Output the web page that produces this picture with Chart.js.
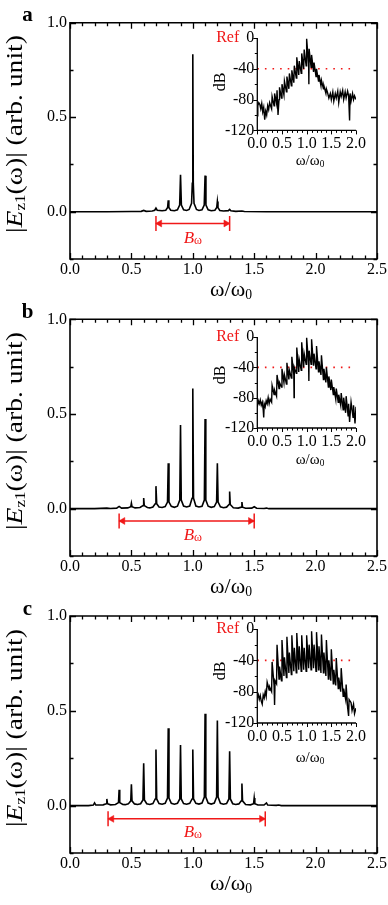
<!DOCTYPE html>
<html><head><meta charset="utf-8">
<script src="https://cdn.jsdelivr.net/npm/chart.js@4/dist/chart.umd.min.js"></script>
<style>
body{margin:0;background:#fff;}
#wrap{position:relative;width:388px;height:905px;overflow:hidden;font-family:"Liberation Serif","Times New Roman",serif;color:#000;}
#wrap canvas{position:absolute;}
.lab{position:absolute;white-space:nowrap;line-height:1;transform:translate(-50%,-50%);}
.rot{transform:translate(-50%,-50%) rotate(-90deg);}
.rotw{transform:translate(-50%,-50%) rotate(-90deg) scaleX(1.2);}
.lab sub{font-size:0.62em;vertical-align:-0.25em;line-height:0;}
</style></head><body><div id="wrap"></div>
<script>
// ---------------- tick values ----------------
const mainXTicks = [0, 0.5, 1.0, 1.5, 2.0, 2.5];
const mainXMinor = [0.1,0.2,0.3,0.4,0.6,0.7,0.8,0.9,1.1,1.2,1.3,1.4,1.6,1.7,1.8,1.9,2.1,2.2,2.3,2.4];
const mainYTicks = [0, 0.5, 1.0];
const mainYMinor = [-0.25, 0.25, 0.75];
const insetXTicks = [0, 0.5, 1.0, 1.5, 2.0];
const insetXMinor = [0.1,0.2,0.3,0.4,0.6,0.7,0.8,0.9,1.1,1.2,1.3,1.4,1.6,1.7,1.8,1.9];
const insetYTicks = [0, -40, -80, -120];
const insetYMinor = [-20, -60, -100];

// ---------------- panel a ----------------
const freqA = [0,0.3,0.5,0.58,0.6,0.62,0.67,0.69,0.7,0.71,0.75,0.78,0.795,0.8,0.805,0.82,0.85,0.875,0.893,0.9,0.907,0.925,0.95,0.97,0.99,0.996,1.0,1.004,1.01,1.03,1.05,1.075,1.093,1.1,1.107,1.125,1.15,1.18,1.195,1.2,1.205,1.22,1.25,1.29,1.3,1.31,1.35,1.4,1.42,1.6,2.5];
const ampA  = [0,0,0.001,0.002,0.007,0.002,0.004,0.008,0.019,0.008,0.005,0.008,0.022,0.061,0.022,0.008,0.005,0.01,0.035,0.195,0.035,0.01,0.007,0.012,0.045,0.15,0.833,0.15,0.045,0.012,0.007,0.01,0.035,0.191,0.035,0.01,0.005,0.008,0.022,0.054,0.022,0.007,0.004,0.006,0.012,0.005,0.002,0.004,0.001,0,0];
const bandA = [0.7, 1.3];
const insetFreqA = [0,0.01,0.03,0.05,0.07,0.09,0.11,0.13,0.15,0.17,0.19,0.21,0.23,0.25,0.29,0.30,0.34,0.35,0.39,0.40,0.42,0.44,0.45,0.49,0.50,0.54,0.55,0.59,0.60,0.64,0.65,0.69,0.70,0.74,0.75,0.79,0.80,0.84,0.85,0.89,0.90,0.94,0.95,0.99,1.00,1.04,1.045,1.05,1.09,1.10,1.14,1.15,1.19,1.20,1.24,1.25,1.29,1.30,1.34,1.35,1.39,1.40,1.42,1.45,1.48,1.50,1.53,1.55,1.58,1.60,1.63,1.65,1.68,1.70,1.73,1.75,1.78,1.80,1.83,1.85,1.87,1.88,1.90,1.93,1.95,1.97,2.00];
const insetDbA   = [-101,-88,-84,-86,-92,-85,-96,-90,-106,-95,-100,-88,-93,-84,-92,-76,-88,-72,-85,-68,-100,-80,-64,-78,-60,-74,-56,-70,-50,-66,-46,-62,-42,-58,-36,-52,-25,-48,-30,-46,-20,-40,-15,-36,-1,-34,-60,-14,-38,-22,-44,-32,-50,-40,-56,-48,-62,-55,-66,-62,-72,-66,-70,-78,-72,-80,-70,-82,-72,-78,-69,-84,-70,-76,-68,-80,-70,-78,-69,-75,-107,-72,-82,-72,-80,-75,-80];

// ---------------- panel b ----------------
const freqB = [0,0.2,0.3,0.33,0.38,0.4,0.42,0.47,0.495,0.5,0.505,0.53,0.57,0.595,0.6,0.605,0.63,0.65,0.675,0.694,0.7,0.706,0.725,0.75,0.775,0.794,0.8,0.806,0.825,0.85,0.875,0.894,0.9,0.906,0.925,0.95,0.975,0.994,1.0,1.006,1.025,1.05,1.075,1.094,1.1,1.106,1.125,1.15,1.175,1.194,1.2,1.206,1.225,1.25,1.275,1.295,1.3,1.305,1.33,1.37,1.395,1.4,1.405,1.43,1.48,1.5,1.52,1.58,1.6,1.62,2.5];
const ampB  = [0,0,0.003,0.001,0.003,0.012,0.003,0.004,0.01,0.028,0.01,0.004,0.006,0.016,0.056,0.016,0.006,0.004,0.009,0.026,0.119,0.026,0.009,0.006,0.011,0.035,0.24,0.035,0.012,0.007,0.013,0.045,0.442,0.045,0.014,0.009,0.014,0.055,0.635,0.055,0.014,0.009,0.013,0.045,0.474,0.045,0.013,0.007,0.011,0.035,0.24,0.035,0.01,0.005,0.008,0.022,0.091,0.022,0.005,0.003,0.008,0.035,0.008,0.002,0.003,0.01,0.002,0.001,0.003,0,0];
const bandB = [0.4, 1.5];
const insetFreqB = [0,0.02,0.04,0.06,0.08,0.10,0.12,0.13,0.14,0.16,0.18,0.20,0.22,0.24,0.26,0.29,0.30,0.34,0.35,0.39,0.40,0.44,0.45,0.49,0.50,0.54,0.55,0.59,0.60,0.64,0.65,0.69,0.70,0.74,0.745,0.75,0.79,0.80,0.84,0.85,0.89,0.90,0.94,0.95,0.99,1.00,1.04,1.045,1.05,1.09,1.10,1.14,1.15,1.19,1.20,1.24,1.25,1.29,1.30,1.34,1.35,1.39,1.40,1.44,1.45,1.49,1.50,1.54,1.55,1.59,1.60,1.64,1.65,1.69,1.70,1.74,1.75,1.79,1.80,1.84,1.85,1.87,1.90,1.94,1.95,1.98,2.00];
const insetDbB   = [-92,-84,-88,-83,-90,-86,-96,-106,-88,-92,-84,-88,-80,-88,-82,-86,-64,-76,-70,-78,-50,-68,-60,-66,-42,-60,-50,-62,-34,-56,-44,-54,-26,-50,-80,-40,-48,-14,-46,-30,-44,-7,-40,-22,-36,-1,-36,-58,-18,-36,-3,-38,-22,-42,-12,-46,-32,-50,-24,-56,-42,-60,-40,-66,-52,-70,-56,-76,-66,-82,-68,-86,-76,-90,-74,-96,-80,-100,-78,-104,-88,-112,-86,-106,-90,-114,-92];

// ---------------- panel c ----------------
const freqC = [0,0.15,0.19,0.2,0.21,0.27,0.295,0.3,0.305,0.33,0.37,0.395,0.4,0.405,0.43,0.45,0.475,0.495,0.5,0.505,0.525,0.55,0.575,0.594,0.6,0.606,0.625,0.65,0.675,0.694,0.7,0.706,0.725,0.75,0.775,0.794,0.8,0.806,0.825,0.85,0.875,0.894,0.9,0.906,0.925,0.95,0.975,0.994,1.0,1.006,1.025,1.05,1.075,1.094,1.1,1.106,1.125,1.15,1.175,1.194,1.2,1.206,1.225,1.25,1.275,1.294,1.3,1.306,1.325,1.35,1.375,1.395,1.4,1.405,1.43,1.47,1.495,1.5,1.505,1.53,1.58,1.6,1.61,1.68,1.7,1.72,2.5];
const ampC  = [0,0,0.003,0.014,0.003,0.004,0.01,0.035,0.01,0.004,0.006,0.016,0.084,0.016,0.006,0.005,0.009,0.025,0.113,0.025,0.009,0.006,0.01,0.03,0.223,0.03,0.01,0.006,0.011,0.035,0.296,0.035,0.011,0.007,0.012,0.04,0.408,0.04,0.012,0.007,0.012,0.035,0.32,0.035,0.011,0.007,0.012,0.035,0.296,0.035,0.012,0.008,0.013,0.045,0.484,0.045,0.013,0.008,0.013,0.045,0.449,0.045,0.012,0.007,0.011,0.035,0.287,0.035,0.01,0.006,0.009,0.025,0.117,0.025,0.006,0.004,0.01,0.04,0.01,0.003,0.003,0.014,0.003,0.001,0.003,0,0];
const bandC = [0.31, 1.59];
const insetFreqC = [0,0.02,0.04,0.06,0.08,0.10,0.12,0.14,0.16,0.18,0.20,0.24,0.25,0.29,0.30,0.34,0.35,0.36,0.39,0.40,0.44,0.45,0.49,0.50,0.54,0.55,0.59,0.60,0.64,0.65,0.69,0.70,0.74,0.75,0.79,0.80,0.84,0.85,0.89,0.90,0.94,0.95,0.99,1.00,1.04,1.05,1.09,1.10,1.14,1.15,1.19,1.20,1.24,1.25,1.29,1.30,1.34,1.35,1.39,1.40,1.44,1.45,1.49,1.50,1.54,1.55,1.59,1.60,1.64,1.65,1.69,1.70,1.74,1.75,1.79,1.80,1.83,1.85,1.86,1.90,1.92,1.95,1.97,2.00];
const insetDbC   = [-88,-84,-90,-85,-92,-96,-84,-88,-80,-86,-68,-78,-74,-80,-42,-72,-97,-66,-70,-20,-64,-48,-66,-14,-60,-36,-62,-10,-56,-30,-58,-8,-54,-24,-56,-5,-52,-22,-54,-8,-52,-24,-54,-8,-50,-20,-52,-3,-50,-20,-54,-4,-52,-22,-56,-7,-56,-30,-60,-14,-64,-40,-66,-26,-70,-52,-72,-37,-76,-62,-80,-50,-86,-76,-90,-71,-100,-111,-90,-94,-104,-96,-108,-101];

// reference level of the insets
const refDb = -40;
const refSpan = [0, 1.9];

// ---------------- layout ----------------
const RED = '#f01818';
const FONT = '"Liberation Serif","Times New Roman",serif';
const panels = [
  {letter:'a', y0:0,   top:22.7, freq:freqA, amp:ampA, band:bandA, bY:-0.062, iF:insetFreqA, iD:insetDbA, iTop:38.3, iBot:130.7, iXt:160, dBy:82},
  {letter:'b', y0:297, top:22.3, freq:freqB, amp:ampB, band:bandB, bY:-0.065, iF:insetFreqB, iD:insetDbB, iTop:40.3, iBot:131.3, iXt:162, dBy:78},
  {letter:'c', y0:594, top:22.0, freq:freqC, amp:ampC, band:bandC, bY:-0.070, iF:insetFreqC, iD:insetDbC, iTop:35.3, iBot:129.3, iXt:163, dBy:77},
];

const wrap = document.getElementById('wrap');
function lab(html, cx, cy, size, cls){
  const d = document.createElement('div');
  d.className = 'lab' + (cls ? ' ' + cls : '');
  d.innerHTML = html;
  d.style.left = cx + 'px'; d.style.top = cy + 'px';
  d.style.fontSize = size + 'px';
  wrap.appendChild(d);
}
function mkCanvas(l, t, w, h){
  const c = document.createElement('canvas');
  c.width = w; c.height = h;
  c.style.left = l + 'px'; c.style.top = t + 'px';
  c.style.width = w + 'px'; c.style.height = h + 'px';
  wrap.appendChild(c);
  return c;
}

// decoration plugin: frame, ticks (from scale values) and rich text labels
const deco = {
  id: 'deco',
  afterDatasetsDraw(chart, args, o){
    const {ctx, chartArea:a} = chart;
    const xs = chart.scales.x, ys = chart.scales.y;
    ctx.save();
    ctx.strokeStyle = '#000';
    ctx.lineWidth = o.lw;
    ctx.beginPath();
    if (o.box) ctx.rect(a.left, a.top, a.right - a.left, a.bottom - a.top);
    else { ctx.moveTo(a.left, a.top); ctx.lineTo(a.left, a.bottom); ctx.lineTo(a.right, a.bottom); }
    ctx.stroke();
    const d = o.inward ? -1 : 1;
    ctx.lineWidth = o.tw;
    ctx.beginPath();
    const tx = (vals, len) => vals.forEach(v => {
      const px = Math.round(xs.getPixelForValue(v)) + 0.5;
      ctx.moveTo(px, a.bottom); ctx.lineTo(px, a.bottom + d * len);
      if (o.box) { ctx.moveTo(px, a.top); ctx.lineTo(px, a.top - d * len); }
    });
    const ty = (vals, len) => vals.forEach(v => {
      const py = Math.round(ys.getPixelForValue(v)) + 0.5;
      ctx.moveTo(a.left, py); ctx.lineTo(a.left - d * len, py);
      if (o.box) { ctx.moveTo(a.right, py); ctx.lineTo(a.right + d * len, py); }
    });
    tx(o.xMajor, o.majorLen); tx(o.xMinor, o.minorLen);
    ty(o.yMajor, o.majorLen); ty(o.yMinor, o.minorLen);
    ctx.stroke();
    (o.texts || []).forEach(t => {
      const x = t.dxLeft !== undefined ? a.left + t.dxLeft : xs.getPixelForValue(t.x);
      const y = ys.getPixelForValue(t.y);
      ctx.fillStyle = t.color;
      ctx.textBaseline = 'middle';
      ctx.textAlign = 'left';
      let w = 0;
      t.parts.forEach(p => { ctx.font = (p.italic ? 'italic ' : '') + p.size + 'px ' + FONT; p.w = ctx.measureText(p.s).width; w += p.w; });
      let cx = t.align === 'right' ? x - w : x - w / 2;
      t.parts.forEach(p => { ctx.font = (p.italic ? 'italic ' : '') + p.size + 'px ' + FONT; ctx.fillText(p.s, cx, y + (p.dy || 0)); cx += p.w; });
    });
    ctx.restore();
  }
};

panels.forEach(p => {
  // ---- main chart ----
  const H = 297, chartBottom = 259;
  const cv = mkCanvas(0, p.y0, 388, H);
  new Chart(cv, {
    type: 'line',
    data: { datasets: [
      { data: p.freq.map((x, i) => ({x, y: p.amp[i]})), borderColor: '#000', borderWidth: 1.6, pointRadius: 0, tension: 0 },
      { data: p.band.map(x => ({x, y: p.bY})), borderColor: RED, borderWidth: 1.5, pointStyle: 'line', pointRadius: 7.5, pointRotation: 90, pointBorderColor: RED, pointBorderWidth: 1.5, pointBackgroundColor: RED },
      { data: [{x: p.band[0] + 0.03, y: p.bY}, {x: p.band[1] - 0.03, y: p.bY}], showLine: false, pointStyle: 'triangle', pointRadius: 4,
        pointRotation: c => c.dataIndex === 0 ? -90 : 90, pointBackgroundColor: RED, pointBorderColor: RED, pointBorderWidth: 0.5 }
    ]},
    options: {
      responsive: false, animation: false, devicePixelRatio: 1,
      layout: { padding: { top: p.top, right: 10, left: 0, bottom: 0 } },
      plugins: { legend: {display: false}, tooltip: {enabled: false},
        deco: { box: true, inward: true, lw: 1.6, tw: 1.3, majorLen: 6, minorLen: 3.5,
          xMajor: mainXTicks, xMinor: mainXMinor, yMajor: mainYTicks, yMinor: mainYMinor,
          texts: [{ x: 1.0, y: -0.14, color: RED, parts: [{s: 'B', italic: true, size: 17}, {s: 'ω', size: 12, dy: 3}] }] } },
      scales: {
        x: { type: 'linear', min: 0, max: 2.5,
          afterBuildTicks: s => { s.ticks = mainXTicks.map(v => ({value: v})); },
          afterFit: s => { s.height = H - chartBottom; },
          grid: {display: false, drawTicks: false}, border: {display: false},
          ticks: { padding: 1, autoSkip: false, maxRotation: 0, color: '#000', font: {family: FONT, size: 16}, callback: v => v.toFixed(1) } },
        y: { type: 'linear', min: -0.25, max: 1.0,
          afterBuildTicks: s => { s.ticks = mainYTicks.map(v => ({value: v})); },
          afterFit: s => { s.width = 70; },
          grid: {display: false, drawTicks: false}, border: {display: false},
          ticks: { padding: 3, autoSkip: false, color: '#000', font: {family: FONT, size: 16}, callback: v => v.toFixed(1) } }
      }
    },
    plugins: [deco]
  });

  // ---- inset ----
  const iL = 195, iT = p.y0 + p.iTop - 14, iW = 175, iH = 128;
  const icv = mkCanvas(iL, iT, iW, iH);
  new Chart(icv, {
    type: 'line',
    data: { datasets: [
      { data: p.iF.map((x, i) => ({x, y: p.iD[i]})), borderColor: '#000', borderWidth: 1.4, pointRadius: 0, tension: 0, order: 1 },
      { data: refSpan.map(x => ({x, y: refDb})), borderColor: RED, borderWidth: 1.6, borderDash: [1.6, 6], pointRadius: 0, order: 2 }
    ]},
    options: {
      responsive: false, animation: false, devicePixelRatio: 1,
      layout: { padding: { top: 14, right: iW - (359.3 - iL), left: 0, bottom: 0 } },
      plugins: { legend: {display: false}, tooltip: {enabled: false},
        deco: { box: false, inward: false, lw: 1.3, tw: 1, majorLen: 4, minorLen: 2.5,
          xMajor: insetXTicks, xMinor: insetXMinor, yMajor: insetYTicks, yMinor: insetYMinor,
          texts: [{ dxLeft: -18, y: 0, align: 'right', color: RED, parts: [{s: 'Ref', size: 16}] }] } },
      scales: {
        x: { type: 'linear', min: 0, max: 2.0,
          afterBuildTicks: s => { s.ticks = insetXTicks.map(v => ({value: v})); },
          afterFit: s => { s.height = iH - 14 - (p.iBot - p.iTop); },
          grid: {display: false, drawTicks: false}, border: {display: false},
          ticks: { padding: 4, autoSkip: false, maxRotation: 0, color: '#000', font: {family: FONT, size: 16}, callback: v => v.toFixed(1) } },
        y: { type: 'linear', min: -120, max: 0,
          afterBuildTicks: s => { s.ticks = insetYTicks.map(v => ({value: v})); },
          afterFit: s => { s.width = 257.3 - iL; },
          grid: {display: false, drawTicks: false}, border: {display: false},
          ticks: { padding: 3, autoSkip: false, color: '#000', font: {family: FONT, size: 16}, callback: v => String(v) } }
      }
    },
    plugins: [deco]
  });

  // ---- text labels ----
  lab('<b>' + p.letter + '</b>', 27.5, p.y0 + 14, 21);
  lab('|<i>E</i><sub>z1</sub>(ω)| (arb. unit)', 14, p.y0 + 134, 23, 'rotw');
  lab('ω/ω<sub>0</sub>', 231, p.y0 + 289, 22);
  lab('dB', 220, p.y0 + p.dBy, 16, 'rot');
  lab('ω/ω<sub>0</sub>', 310, p.y0 + p.iXt, 15);
});
</script>
</body></html>
